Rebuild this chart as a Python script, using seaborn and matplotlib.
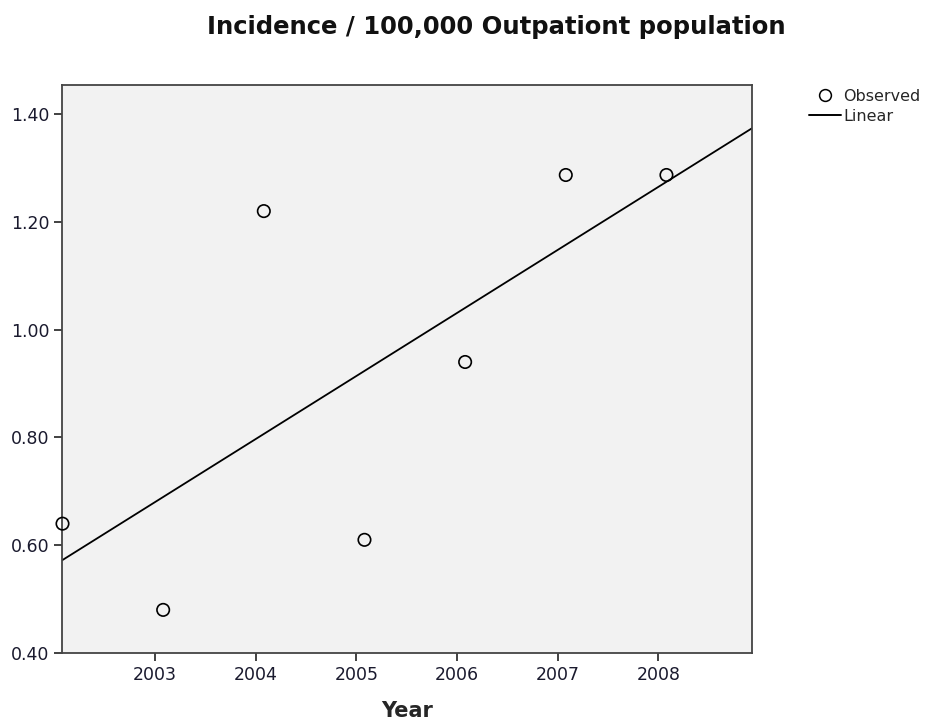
import numpy as np
import pandas as pd
import matplotlib
matplotlib.use("Agg")
import matplotlib.pyplot as plt
import seaborn as sns
from matplotlib.lines import Line2D

years = [2002.08, 2003.08, 2004.08, 2005.08, 2006.08, 2007.08, 2008.08]
incidence = [0.64, 0.48, 1.22, 0.61, 0.94, 1.287, 1.287]
xticks = [2003, 2004, 2005, 2006, 2007, 2008]
yticks = [0.40, 0.60, 0.80, 1.00, 1.20, 1.40]
title = "Incidence / 100,000 Outpationt population"

df = pd.DataFrame({"Year": years, "Incidence": incidence})

sns.set_theme(style="white")
plt.rcParams['font.family'] = ['DejaVu Sans']

fig = plt.figure(figsize=(9.26, 7.21), dpi=100)
ax = fig.add_axes([62/926, 1-653/721, (752-62)/926, (653-85)/721])
ax.set_facecolor("#f2f2f2")
ax.set_xlim(2002.075, 2008.93)
ax.set_ylim(0.40, 1.454)

sns.regplot(data=df, x="Year", y="Incidence", ax=ax, ci=None, truncate=False,
            scatter=False, line_kws=dict(color="black", lw=1.3))
sns.scatterplot(data=df, x="Year", y="Incidence", ax=ax, marker="o", s=80,
                facecolors="none", edgecolor="black", linewidth=1.2, zorder=5,
                clip_on=False)

ax.set_xticks(xticks)
ax.set_xticklabels([str(t) for t in xticks])
ax.set_yticks(yticks)
ax.set_yticklabels([f"{t:.2f}" for t in yticks])
ax.tick_params(axis="both", which="both", direction="out", length=6, width=1.3,
               colors="#333333", labelsize=12.5, labelcolor="#1a1a2e",
               bottom=True, left=True, pad=3)
for s in ax.spines.values():
    s.set_color("#444444")
    s.set_linewidth(1.3)
ax.set_xlabel("Year", fontsize=15, fontweight="bold")
ax.xaxis.set_label_coords(0.5, (653-711)/568)
ax.xaxis.label.set_va("center")
ax.set_ylabel("")

fig.text(496/926, 1-27/721, title, ha="center", va="center", fontsize=17.5,
         fontweight="bold", color="#111111")

handles = [Line2D([], [], marker="o", ls="none", markerfacecolor="none",
                  markeredgecolor="black", markersize=8.5, markeredgewidth=1.1),
           Line2D([], [], color="black", lw=1.4)]
fig.legend(handles, ["Observed", "Linear"], loc="upper left",
           bbox_to_anchor=(809/926, 1-89/721), frameon=False, fontsize=11.5,
           handlelength=2.0, handletextpad=0.15, labelspacing=0.3,
           borderaxespad=0, borderpad=0)

fig.savefig("out.png", dpi=100, facecolor="white")
